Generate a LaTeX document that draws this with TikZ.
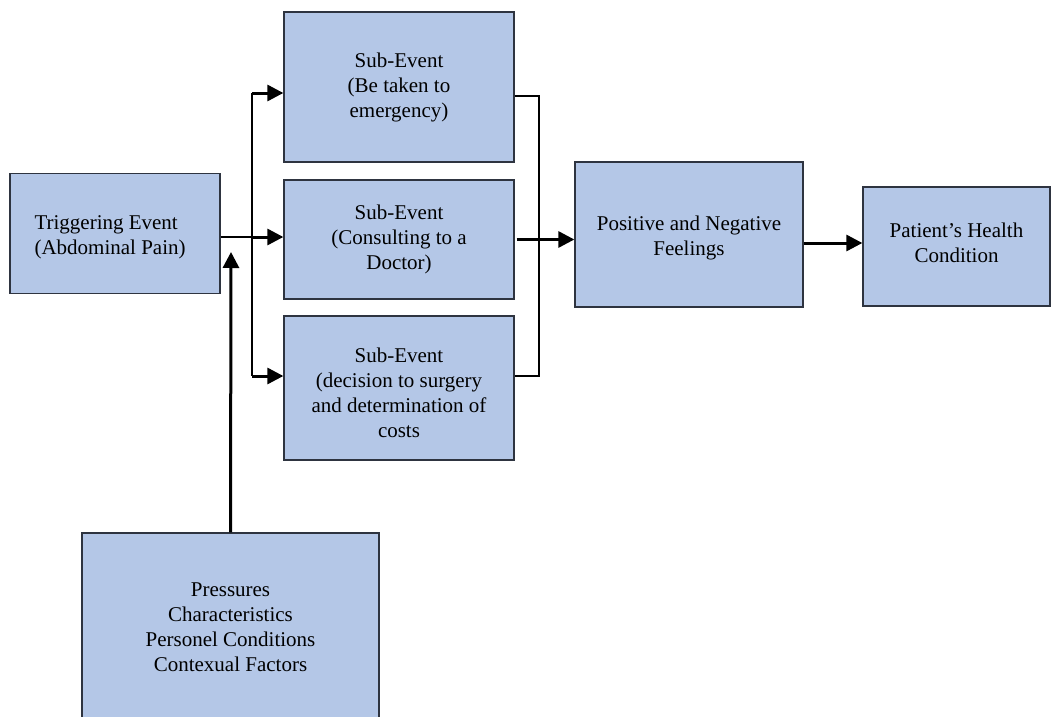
\documentclass[tikz,border=0pt]{standalone}
\usepackage{fontspec}
\setmainfont{Liberation Serif}
\newfontfamily\figfont{Liberation Serif}
\usetikzlibrary{arrows.meta,calc}
\definecolor{boxfill}{HTML}{B4C7E7}
\definecolor{boxline}{HTML}{2E3440}
\tikzset{
  txtfont/.style={font=\figfont\fontsize{21}{25}\selectfont},
  evbox/.style={draw=boxline, fill=boxfill, line width=1.3pt, inner sep=0pt,
    align=center, txtfont},
  thinline/.style={line width=1.2pt, black},
  thickarrow/.style={line width=3pt, black, -{Triangle[length=16pt,width=16pt]}},
}
\begin{document}
\begin{tikzpicture}[x=1pt,y=-1pt]
\useasboundingbox (0,0) rectangle (1063,717);
\clip (0,0) rectangle (1063,717);
% boxes
\node[evbox, minimum width=210pt, minimum height=120pt] (trig) at (115,233.5) {};
\node[txtfont, align=left, anchor=west] (trigtxt) at (31,237) {Triggering Event\\(Abdominal Pain)};
\node[evbox, minimum width=230pt, minimum height=150pt] (s1) at (399,87) {Sub-Event\\(Be taken to\\emergency)};
\node[evbox, minimum width=230pt, minimum height=119pt] (s2) at (399,239.5) {Sub-Event\\(Consulting to a\\Doctor)};
\node[evbox, minimum width=230pt, minimum height=144pt] (s3) at (399,388) {};
\node[txtfont, align=center] (s3txt) at (399,393) {Sub-Event\\(decision to surgery\\and determination of\\costs};
\node[evbox, minimum width=228pt, minimum height=145pt] (pos) at (689,234.5) {};
\node[txtfont, align=center] (postxt) at (689,238) {Positive and Negative\\Feelings};
\node[evbox, minimum width=187pt, minimum height=119pt] (pat) at (956.5,246.5) {};
\node[txtfont, align=center] (pattxt) at (956.5,243) {Patient’s Health\\Condition};
\node[evbox, minimum width=297pt, minimum height=188pt] (press) at (230.5,627) {Pressures\\Characteristics\\Personel Conditions\\Contexual Factors};
% coordinates
\coordinate (busL1) at (252,93);
\coordinate (busL2) at (252,237);
\coordinate (busL3) at (252,376);
\coordinate (busR1) at (539,96);
\coordinate (busR3) at (539,376);
\coordinate (upend) at (231,252);
\coordinate (pp) at (803,243);
% left bus
\draw[thinline] (trig.east |- busL2) -- (busL2);
\draw[thinline] (busL1) -- (busL3);
\draw[thickarrow] (busL1) -- (busL1 -| s1.west);
\draw[thickarrow] (busL2) -- (busL2 -| s2.west);
\draw[thickarrow] (busL3) -- (busL3 -| s3.west);
% upward arrow
\draw[thickarrow] (press.north) -- (upend);
% right bus
\draw[thinline] (busR1 -| s1.east) -- (busR1) -- (busR3) -- (busR3 -| s3.east);
\draw[thickarrow] ($(s2.east)+(2,0)$) -- (s2.east -| pos.west);
\draw[thickarrow] (pp -| pos.east) -- (pp -| pat.west);
\end{tikzpicture}
\end{document}
